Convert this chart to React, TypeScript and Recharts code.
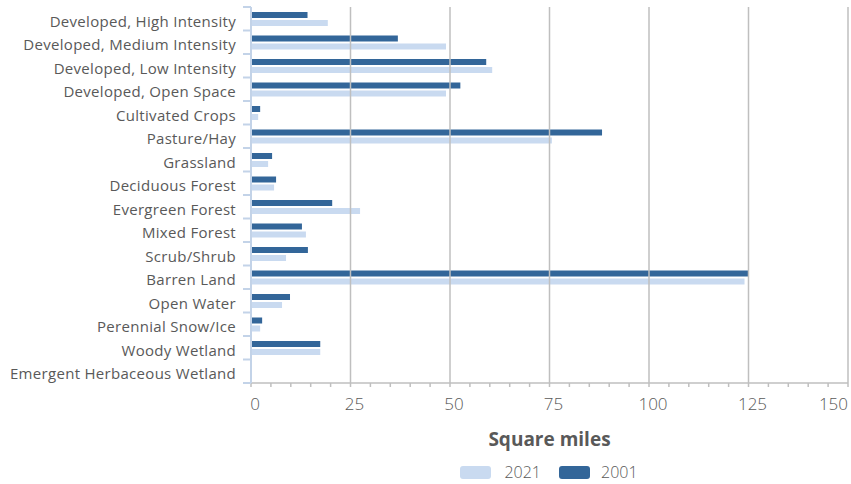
import React from 'react';
import {
  BarChart,
  Bar,
  XAxis,
  YAxis,
  ReferenceLine,
  Legend,
} from 'recharts';

const categories = [
  'Developed, High Intensity',
  'Developed, Medium Intensity',
  'Developed, Low Intensity',
  'Developed, Open Space',
  'Cultivated Crops',
  'Pasture/Hay',
  'Grassland',
  'Deciduous Forest',
  'Evergreen Forest',
  'Mixed Forest',
  'Scrub/Shrub',
  'Barren Land',
  'Open Water',
  'Perennial Snow/Ice',
  'Woody Wetland',
  'Emergent Herbaceous Wetland',
];

const values2001 = [14.2, 36.9, 59.1, 52.6, 2.3, 88.2, 5.3, 6.3, 20.4, 12.8, 14.3, 125.0, 9.8, 2.8, 17.4, 0];
const values2021 = [19.3, 49.0, 60.6, 49.0, 1.8, 75.6, 4.3, 5.8, 27.4, 13.8, 8.8, 124.0, 7.8, 2.3, 17.4, 0];

const minorTicks = [
  0, 5, 10, 15, 20, 25, 30, 35, 40, 45, 50, 55, 60, 65, 70, 75,
  80, 85, 90, 95, 100, 105, 110, 115, 120, 125, 130, 135, 140, 145, 150,
];
const majorTicks = [0, 25, 50, 75, 100, 125, 150];

const DARK = '#336699';
const LIGHT = '#c9daf0';
const AXIS_BLUE = '#c3d3e8';
const GRID = '#bfbfbf';
const TEXT = '#595959';
const FONT = '"Open Sans", sans-serif';

const data = categories.map((name, i) => ({
  name,
  y2001: values2001[i],
  y2021: values2021[i],
}));

// category ticks sit on the band edges, like the original
const CategoryTick = (props: any) => {
  const { x, y, payload, index } = props;
  const half = payload?.offset ?? 11.75;
  const axisX = x + 15;
  return (
    <g>
      <line x1={axisX - 8} x2={axisX} y1={y - half} y2={y - half} stroke={AXIS_BLUE} strokeWidth={2} />
      {index === categories.length - 1 && (
        <line x1={axisX - 8} x2={axisX} y1={y + half} y2={y + half} stroke={AXIS_BLUE} strokeWidth={2} />
      )}
      <text
        x={x}
        y={y}
        dy={8}
        textAnchor="end"
        fill={TEXT}
        fontSize={15}
        letterSpacing={0.3}
        fontFamily={FONT}
      >
        {payload.value}
      </text>
    </g>
  );
};

const ValueTick = (props: any) => {
  const { x, y, payload } = props;
  if (payload.value % 25 !== 0) return null;
  const last = payload.value === 150;
  return (
    <text
      x={last ? x : x + 4}
      y={y}
      dy={21}
      textAnchor={last ? 'end' : 'middle'}
      fill={TEXT}
      fontSize={17}
      fontWeight={300}
      fontFamily={FONT}
    >
      {payload.value}
    </text>
  );
};

const LegendContent = () => (
  <div
    style={{
      display: 'flex',
      justifyContent: 'center',
      alignItems: 'center',
      paddingLeft: 250,
      paddingTop: 21,
      lineHeight: '16px',
      fontFamily: FONT,
      fontSize: 16,
      color: TEXT,
    }}
  >
    <span style={{ display: 'inline-block', width: 31, height: 13, borderRadius: 3, background: LIGHT, marginRight: 13 }} />
    <span style={{ marginRight: 18, fontWeight: 300 }}>2021</span>
    <span style={{ display: 'inline-block', width: 31, height: 13, borderRadius: 3, background: DARK, marginRight: 11 }} />
    <span style={{ fontWeight: 300 }}>2001</span>
  </div>
);

export default function App() {
  return (
    <div style={{ position: 'absolute', left: 0, top: 0, background: '#fff' }}>
      <BarChart
        width={851}
        height={484}
        data={data}
        layout="vertical"
        barSize={6}
        barGap={2}
        margin={{ top: 7, right: 3, left: 0, bottom: 0 }}
      >
        {majorTicks.slice(1).map((v) => (
          <ReferenceLine key={v} x={v} stroke={GRID} strokeWidth={1.5} ifOverflow="extendDomain" />
        ))}
        <XAxis
          type="number"
          domain={[0, 150]}
          ticks={minorTicks}
          interval={0}
          height={60}
          axisLine={{ stroke: GRID, strokeWidth: 1.5 }}
          tickLine={{ stroke: GRID, strokeWidth: 1.5 }}
          tickSize={4}
          tick={<ValueTick />}
          label={{
            value: 'Square miles',
            position: 'insideBottom',
            offset: -3,
            fill: TEXT,
            fontSize: 19,
            fontWeight: 700,
            fontFamily: FONT,
          }}
        />
        <YAxis
          type="category"
          dataKey="name"
          width={251}
          axisLine={{ stroke: AXIS_BLUE, strokeWidth: 2 }}
          tickLine={false}
          tickSize={0}
          tickMargin={15}
          interval={0}
          tick={<CategoryTick />}
        />
        <Legend verticalAlign="bottom" height={41} content={<LegendContent />} />
        <Bar dataKey="y2001" name="2001" fill={DARK} isAnimationActive={false} />
        <Bar dataKey="y2021" name="2021" fill={LIGHT} isAnimationActive={false} />
      </BarChart>
    </div>
  );
}
